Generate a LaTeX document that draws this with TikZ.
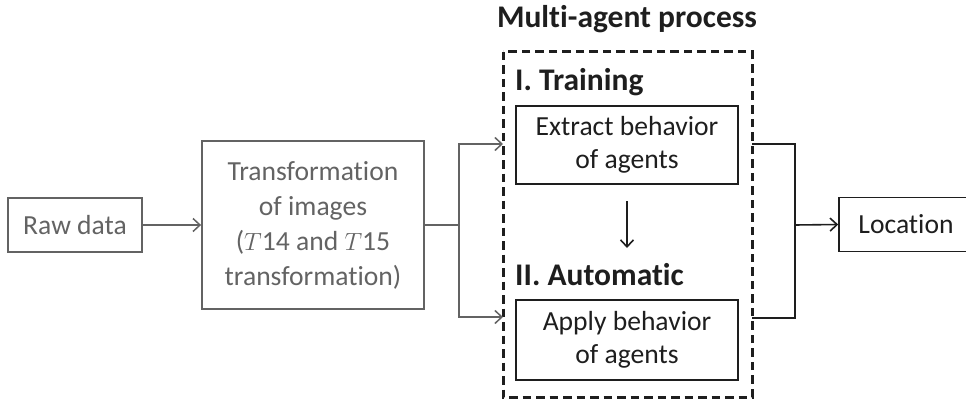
\documentclass[tikz,border=0pt]{standalone}
\usepackage{fontspec}
\setmainfont{Carlito}[Ligatures=NoCommon]
\usetikzlibrary{arrows.meta}
\definecolor{greyink}{HTML}{636363}
\definecolor{darkink}{HTML}{1E1E1E}
\begin{document}
\begin{tikzpicture}[x=1pt,y=-1pt,
  every node/.style={font=\fontsize{27.6}{35}\selectfont},
  greybox/.style={draw=greyink,line width=1.8pt,text=greyink,align=center,inner sep=0pt},
  darkbox/.style={draw=darkink,line width=1.6pt,text=darkink,align=center,inner sep=0pt},
  heading/.style={font=\fontsize{31.5}{36}\selectfont\bfseries,text=darkink,inner sep=0pt},
  greyarrow/.style={draw=greyink,line width=1.5pt,-{Straight Barb[length=7pt,width=13pt,line width=1.5pt]}},
  darkarrow/.style={draw=darkink,line width=1.6pt,-{Straight Barb[length=7pt,width=13pt,line width=1.6pt]}},
  darkline/.style={draw=darkink,line width=1.6pt},
  greyline/.style={draw=greyink,line width=1.5pt}
]
\useasboundingbox (0,0) rectangle (966,401);
\clip (0,0) rectangle (966,401);

% multi-agent frame
\draw[darkink,line width=3pt,dash pattern=on 8.5pt off 5pt] (503,52) rectangle (752,397);
\coordinate (frameL1) at (503,144);
\coordinate (frameL2) at (503,317);
\coordinate (frameR1) at (752,144);
\coordinate (frameR2) at (752,318);
\node[heading,anchor=base] (title) at (627,28) {Multi-agent process};

% boxes
\node[greybox,minimum width=134pt,minimum height=54pt] (raw) at (75,225) {Raw data};
\node[greybox,minimum width=222pt,minimum height=168pt] (trans) at (313,225)
  {Transformation\\of images\\($T$14 and $T$15\\transformation)};
\node[darkbox,minimum width=222pt,minimum height=78pt,font=\fontsize{27.6}{33}\selectfont] (extract) at (627,145)
  {Extract behavior\\of agents};
\node[darkbox,minimum width=222pt,minimum height=80pt,font=\fontsize{27.6}{33}\selectfont] (apply) at (627,340)
  {Apply behavior\\of agents};
\node[darkbox,minimum width=134pt,minimum height=54pt] (loc) at (906,224.5) {Location};

\node[heading,anchor=base west] (train) at (515,91) {I. Training};
\node[heading,anchor=base west] (auto) at (515,285) {II. Automatic};

% connectors
\draw[greyarrow] (raw.east) -- (trans.west);
\coordinate (split) at (459,225);
\draw[greyline] (trans.east) -- (split);
\draw[greyarrow] (split) |- (frameL1);
\draw[greyarrow] (split) |- (frameL2);
\draw[darkarrow] (extract.south |- 0,201) -- (extract.south |- 0,248);
\coordinate (join) at (795,225);
\draw[darkline] (frameR1) -| (join) |- (frameR2);
\draw[darkarrow] (join) -- (loc.west);
\end{tikzpicture}
\end{document}
